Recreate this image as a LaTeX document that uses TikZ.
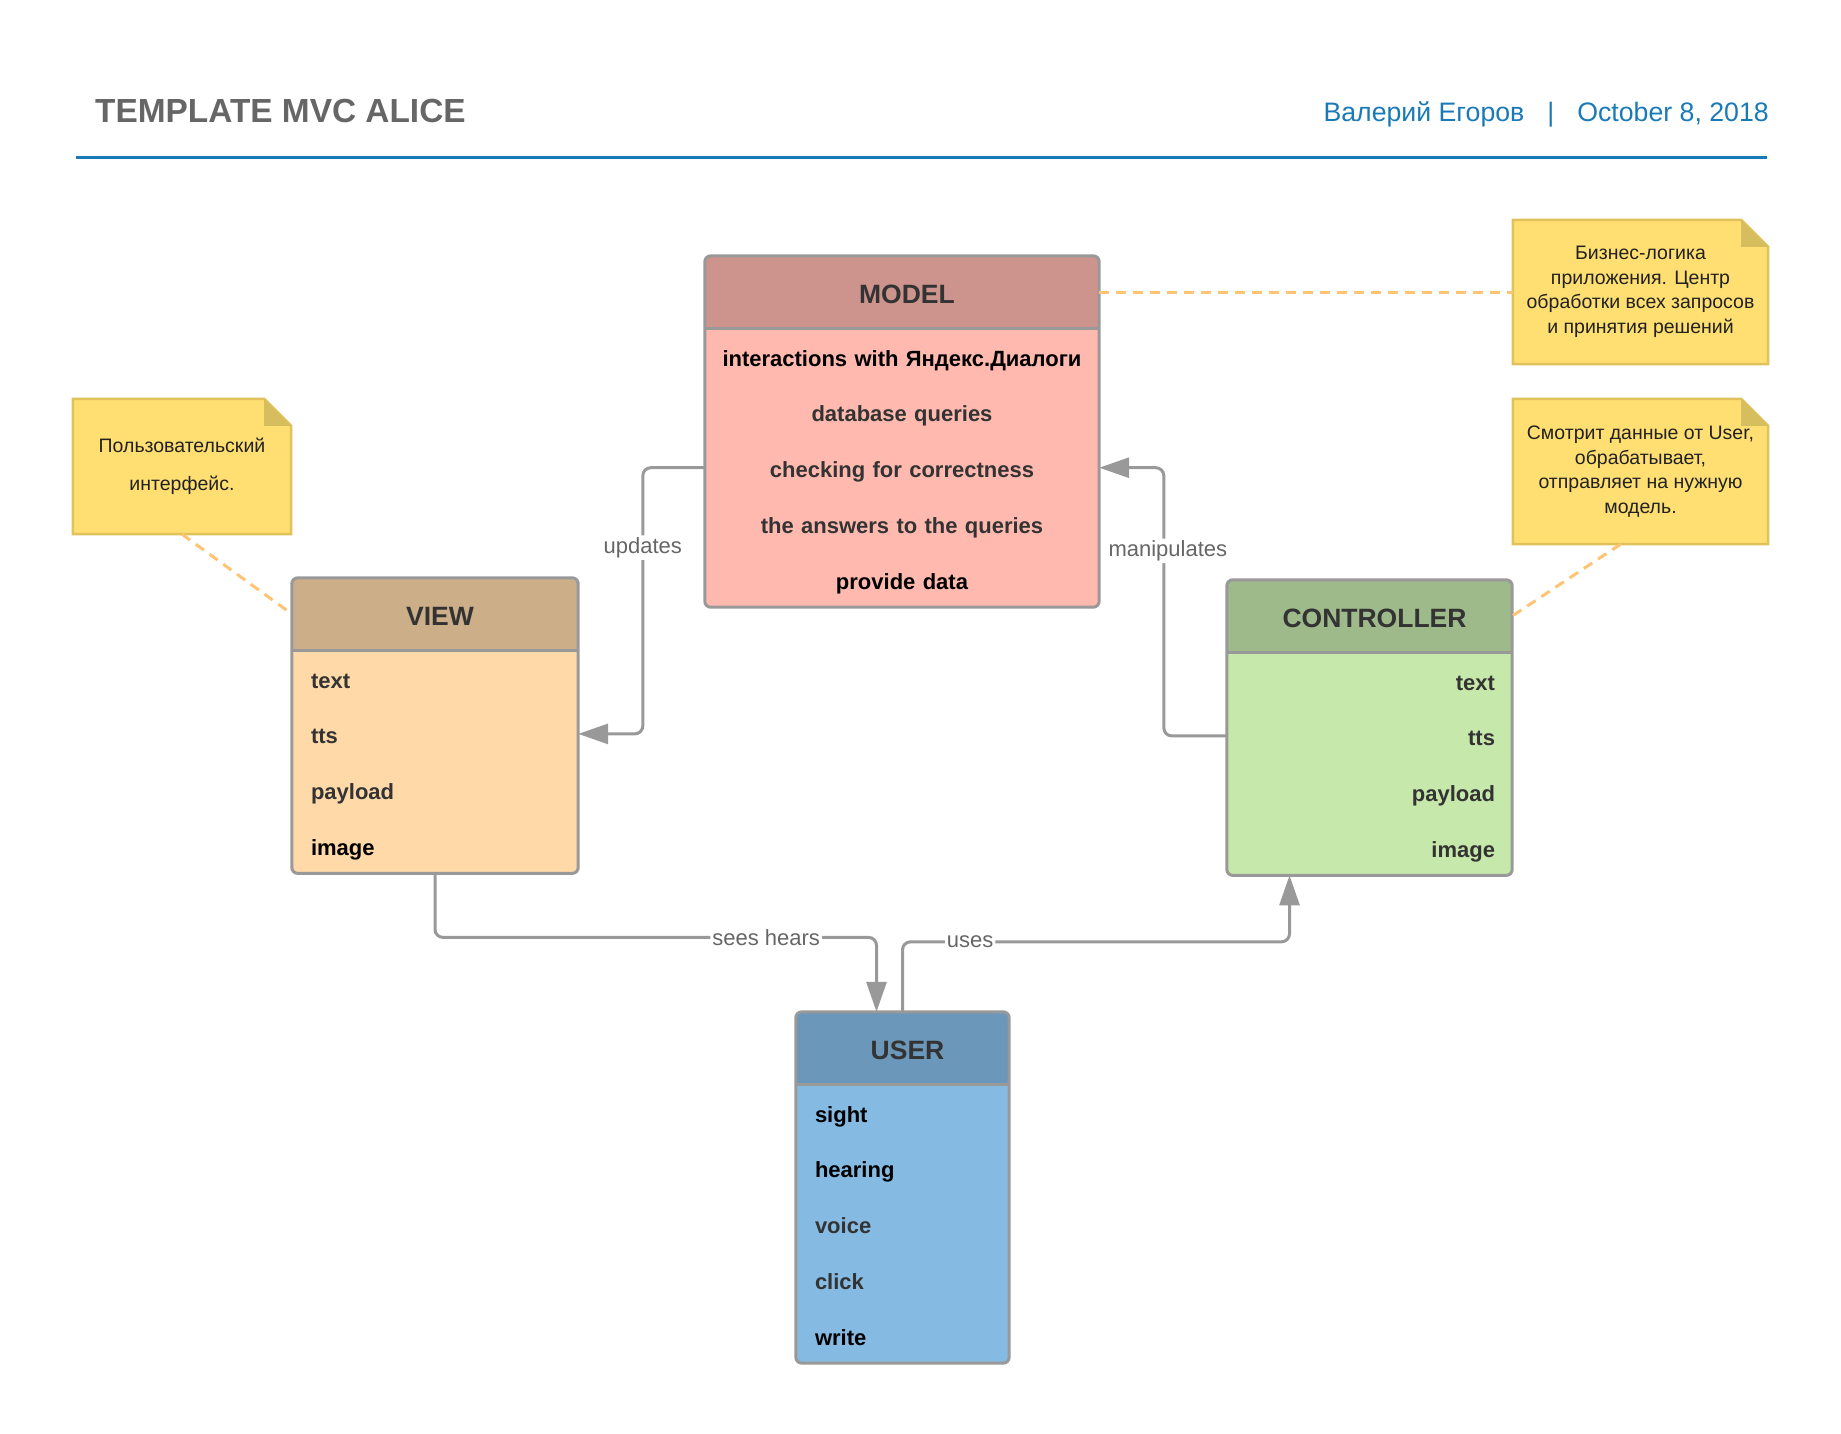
\documentclass[tikz,border=0pt]{standalone}
\usepackage{fontspec}
\setmainfont{Liberation Sans}
\usetikzlibrary{positioning,arrows.meta,backgrounds}

\definecolor{framegray}{HTML}{999999}
\definecolor{dark}{HTML}{333333}
\definecolor{titlegray}{HTML}{666666}
\definecolor{labelgray}{HTML}{666666}
\definecolor{authorblue}{HTML}{1A7AB8}
\definecolor{modelhead}{HTML}{CC948C}
\definecolor{modelbody}{HTML}{FFB9AF}
\definecolor{viewhead}{HTML}{CCAE88}
\definecolor{viewbody}{HTML}{FFD9A8}
\definecolor{ctrlhead}{HTML}{9EB98A}
\definecolor{ctrlbody}{HTML}{C7E8AB}
\definecolor{userhead}{HTML}{6A97BA}
\definecolor{userbody}{HTML}{85BAE3}
\definecolor{notefill}{HTML}{FFDF71}
\definecolor{noteedge}{HTML}{E0C25A}
\definecolor{notefold}{HTML}{D6BE5E}
\definecolor{dashorange}{HTML}{FFC374}

\tikzset{
  head/.style={minimum width=#1,minimum height=72pt,inner sep=0pt,text=dark,
    text height=23pt,text depth=0pt,execute at begin node=\hspace*{10pt},
    font=\fontsize{26.5}{30}\selectfont\bfseries},
  row/.style={minimum height=55.4pt,inner ysep=0pt,text height=20pt,text depth=0pt,
    font=\fontsize{22}{26}\selectfont\bfseries},
  boxline/.style={draw=framegray,line width=3pt},
  note/.style={align=center,inner sep=0pt,text=black!87,
    font=\fontsize{19.5}{24.5}\selectfont},
  notelink/.style={draw=dashorange,line width=3pt,dash pattern=on 10pt off 7pt},
  conn/.style={draw=framegray,line width=3pt,rounded corners=8pt,
    -{Triangle[length=30pt,width=20pt]}},
  lbl/.style={fill=white,inner sep=2pt,text=labelgray,
    font=\fontsize{22}{26}\selectfont}
}

\begin{document}
\begin{tikzpicture}[x=1pt,y=-1pt]
\useasboundingbox (0,0) rectangle (1841,1433);

% heading
\node[anchor=west,inner sep=0pt,text=titlegray,font=\fontsize{33.4}{40}\selectfont\bfseries] (title) at (95,111) {TEMPLATE MVC ALICE};
\node[anchor=east,inner sep=0pt,text=authorblue,font=\fontsize{26.7}{32}\selectfont] (author) at (1769,114) {Валерий Егоров\hspace{23pt}|\hspace{23pt}October 8, 2018};
\draw[authorblue,line width=3pt] (76,157) -- (1767,157);

% model
\node[head=394pt,alias=model-0] (model) at (902,292) {MODEL};
\foreach \t/\c [count=\i] in {interactions with Яндекс.Диалоги/black,database queries/dark,checking for correctness/dark,the answers to the queries/dark,provide data/black}{
  \pgfmathtruncatemacro\j{\i-1}
  \node[row,text=\c,text width=380pt,inner xsep=7pt,align=center,below=0pt of model-\j] (model-\i) {\t};
}

% view
\node[head=286pt,alias=view-0] (view) at (435,614) {VIEW};
\foreach \t/\c [count=\i] in {text/dark,tts/dark,payload/dark,image/black}{
  \pgfmathtruncatemacro\j{\i-1}
  \node[row,text=\c,text width=248pt,inner xsep=19pt,align=left,below=0pt of view-\j] (view-\i) {\t};
}

% controller
\node[head=285pt,alias=ctrl-0] (ctrl) at (1369.5,616) {CONTROLLER};
\foreach \t/\c [count=\i] in {text/dark,tts/dark,payload/dark,image/dark}{
  \pgfmathtruncatemacro\j{\i-1}
  \node[row,text=\c,text width=251pt,inner xsep=17pt,align=right,below=0pt of ctrl-\j] (ctrl-\i) {\t};
}

% user
\node[head=213pt,alias=user-0] (user) at (902.5,1048) {USER};
\foreach \t/\c [count=\i] in {sight/black,hearing/black,voice/dark,click/dark,write/black}{
  \pgfmathtruncatemacro\j{\i-1}
  \node[row,text=\c,text width=175pt,inner xsep=19pt,align=left,below=0pt of user-\j] (user-\i) {\t};
}

% box fills and frames
\foreach \b/\n in {model/5,view/4,ctrl/4,user/5}{
  \begin{scope}[on background layer]
    \begin{scope}
      \clip[rounded corners=6pt] (\b.north west) rectangle (\b-\n.south east);
      \fill[fill=\b body] (\b.north west) rectangle (\b-\n.south east);
      \fill[fill=\b head] (\b.north west) rectangle (\b.south east);
    \end{scope}
  \end{scope}
  \draw[boxline] (\b.south west) -- (\b.south east);
  \draw[boxline,rounded corners=6pt] (\b.north west) rectangle (\b-\n.south east);
}

% notes
\node[note,minimum width=218pt,minimum height=135pt] (note1) at (182,466.5) {Пользовательский\\[14pt]интерфейс.\\[-20pt]};
\node[note,minimum width=255pt,minimum height=144pt] (note2) at (1640.5,292) {Бизнес-логика\\приложения. Центр\\обработки всех запросов\\и принятия решений};
\node[note,minimum width=255pt,minimum height=145pt] (note3) at (1640.5,471.5) {Смотрит данные от User,\\обрабатывает,\\отправляет на нужную\\модель.};
\begin{scope}[on background layer]
  \foreach \n in {note1,note2,note3}{
    \filldraw[fill=notefill,draw=noteedge,line width=2.5pt] (\n.north west) -- ([xshift=-27pt]\n.north east) -- ([yshift=-27pt]\n.north east) -- (\n.south east) -- (\n.south west) -- cycle;
    \fill[notefold] ([xshift=-27pt]\n.north east) -- ([xshift=-27pt,yshift=-27pt]\n.north east) -- ([yshift=-27pt]\n.north east) -- cycle;
  }
\end{scope}

\draw[notelink] (model.east) -- (note2.west);
\draw[notelink] (note1.south) -- (view.west);
\draw[notelink] ([xshift=-20pt]note3.south) -- (ctrl.east);

% connectors
\draw[conn] (model-3.west) -- ++(-62,0) |- node[lbl,pos=0.15] (lupd) {updates} (view-2.east);
\draw[conn] (ctrl-2.west) -- ++(-63,0) |- node[lbl,pos=0.345,xshift=4pt] (lman) {manipulates} (model-3.east);
\draw[conn] (view-4.south) -- ++(0,64) -| node[lbl,pos=0.375] (lsee) {sees hears} ([xshift=-26pt]user.north);
\draw[conn] (user.north) -- ++(0,-70) -| node[lbl,pos=0.0875] (luse) {uses} ([xshift=-80pt]ctrl-4.south);
\end{tikzpicture}
\end{document}
